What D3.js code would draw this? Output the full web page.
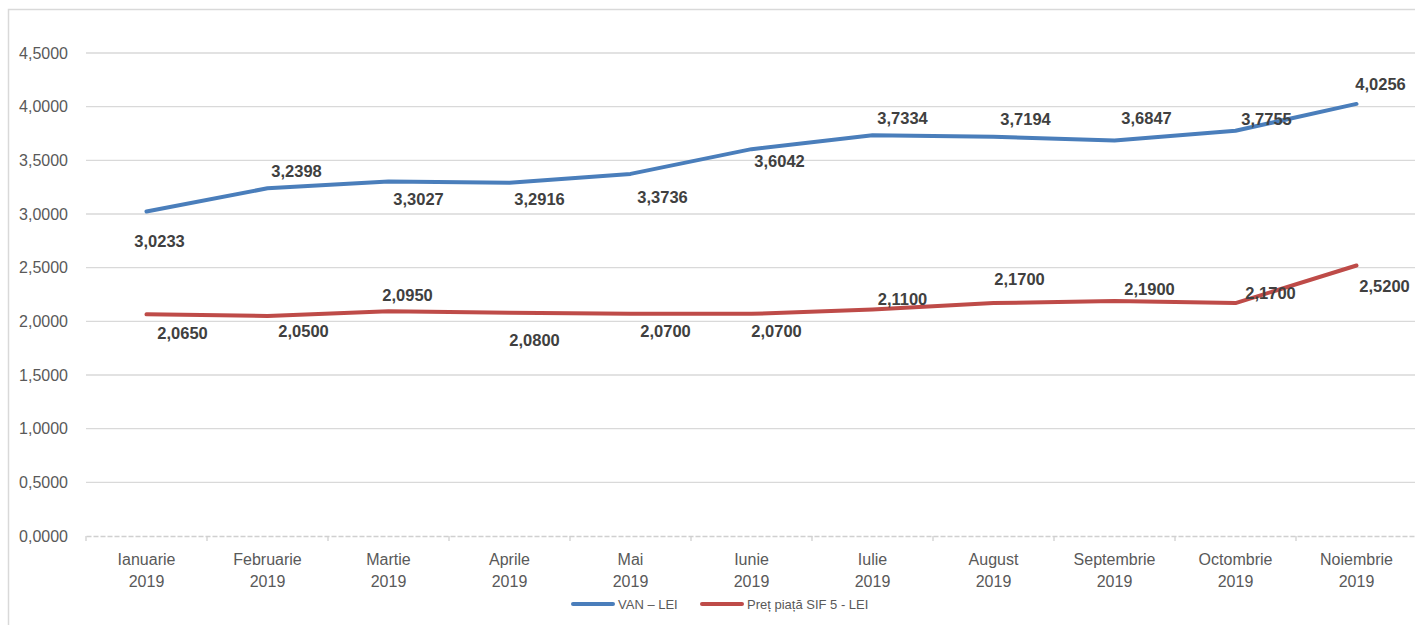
<!DOCTYPE html>
<html>
<head>
<meta charset="utf-8">
<script src="https://cdn.jsdelivr.net/npm/d3@7"></script>
<style>
  body { margin: 0; background: #fff; }
  svg { font-family: "Liberation Sans", Arial, sans-serif; }
  .grid line { stroke: #d9d9d9; stroke-width: 1.3; }
</style>
</head>
<body>
<svg width="1415" height="625"></svg>
<script>
var months = ["Ianuarie", "Februarie", "Martie", "Aprile", "Mai", "Iunie", "Iulie", "August", "Septembrie", "Octombrie", "Noiembrie"];
var year = "2019";
var van = [3.0233, 3.2398, 3.3027, 3.2916, 3.3736, 3.6042, 3.7334, 3.7194, 3.6847, 3.7755, 4.0256];
var pret = [2.065, 2.05, 2.095, 2.08, 2.07, 2.07, 2.11, 2.17, 2.19, 2.17, 2.52];
var yTicks = [0, 0.5, 1, 1.5, 2, 2.5, 3, 3.5, 4, 4.5];
var seriesNames = ["VAN \u2013 LEI", "Pre\u021b pia\u021b\u0103 SIF 5 - LEI"];

// label offsets (px) from each point, as placed in the original
var vanOffsets = [[13, 30], [29, -17], [30, 18], [30, 17], [32, 23], [28, 12], [30, -17], [32, -18], [32, -22], [31, -12], [24, -20]];
var pretOffsets = [[36, 19], [36, 15], [19, -16], [25, 27], [35, 17], [25, 17], [30, -10], [26, -24], [35, -12], [35, -10], [28, 21]];

var svg = d3.select("svg"),
    margin = {left: 86, right: -2, top: 53, bottom: 89},
    width = +svg.attr("width"),
    height = +svg.attr("height");

var fmt = function (v) { return d3.format(".4f")(v).replace(".", ","); };

// outer frame
svg.append("rect")
    .attr("x", 8.5).attr("y", 9.5)
    .attr("width", 1430).attr("height", 640)
    .attr("fill", "none")
    .attr("stroke", "#d9d9d9")
    .attr("stroke-width", 1.5);

var x = d3.scaleBand()
    .domain(months)
    .range([margin.left, width - margin.right]);

var y = d3.scaleLinear()
    .domain([0, 4.5])
    .range([height - margin.bottom, margin.top]);

// gridlines
svg.append("g")
    .attr("class", "grid")
    .selectAll("line")
    .data(yTicks.filter(function (t) { return t > 0; }))
    .enter().append("line")
    .attr("x1", margin.left)
    .attr("x2", width - margin.right)
    .attr("y1", function (d) { return y(d); })
    .attr("y2", function (d) { return y(d); });

// y labels
svg.append("g")
    .selectAll("text")
    .data(yTicks)
    .enter().append("text")
    .attr("x", 68)
    .attr("y", function (d) { return y(d); })
    .attr("dy", "0.35em")
    .attr("text-anchor", "end")
    .attr("fill", "#595959")
    .style("font-size", "16px")
    .text(fmt);

// x axis
var xAxis = svg.append("g")
    .attr("transform", "translate(0," + y(0) + ")")
    .call(d3.axisBottom(x).tickSize(0).tickFormat(""));
xAxis.select(".domain")
    .attr("stroke", "#d0d0d0")
    .attr("stroke-width", 1.3)
    .attr("stroke-dasharray", "5,2");
xAxis.selectAll(".tick").remove();

var edges = months.map(function (m) { return x(m); }).concat([x(months[months.length - 1]) + x.bandwidth()]);
xAxis.selectAll("line.edge")
    .data(edges)
    .enter().append("line")
    .attr("class", "edge")
    .attr("x1", function (d) { return d; })
    .attr("x2", function (d) { return d; })
    .attr("y1", 0).attr("y2", 5)
    .attr("stroke", "#d0d0d0")
    .attr("stroke-width", 1.3);

var xl = svg.append("g")
    .selectAll("text")
    .data(months)
    .enter().append("text")
    .attr("text-anchor", "middle")
    .attr("fill", "#595959")
    .style("font-size", "16px")
    .attr("transform", function (d) { return "translate(" + (x(d) + x.bandwidth() / 2) + ",565)"; });
xl.append("tspan").attr("x", 0).attr("y", 0).text(function (d) { return d; });
xl.append("tspan").attr("x", 0).attr("y", 22).text(year);

// lines
var line = d3.line()
    .x(function (d, i) { return x(months[i]) + x.bandwidth() / 2; })
    .y(function (d) { return y(d); });

var colors = ["#4a7ebb", "#be4b48"];

[pret, van].forEach(function (s, k) {
    svg.append("path")
        .datum(s)
        .attr("d", line)
        .attr("fill", "none")
        .attr("stroke", colors[1 - k])
        .attr("stroke-width", 4)
        .attr("stroke-linejoin", "round")
        .attr("stroke-linecap", "round");
});

// data labels
function labels(s, offs) {
    svg.append("g")
        .selectAll("text")
        .data(s)
        .enter().append("text")
        .attr("x", function (d, i) { return x(months[i]) + x.bandwidth() / 2 + offs[i][0]; })
        .attr("y", function (d, i) { return y(d) + offs[i][1]; })
        .attr("dy", "0.35em")
        .attr("text-anchor", "middle")
        .attr("fill", "#404040")
        .style("font-size", "16.5px")
        .style("font-weight", "bold")
        .text(fmt);
}
labels(van, vanOffsets);
labels(pret, pretOffsets);

// legend
var legX = [571, 700];
var leg = svg.append("g")
    .selectAll("g")
    .data(seriesNames)
    .enter().append("g")
    .attr("transform", function (d, i) { return "translate(" + legX[i] + ",604)"; });
leg.append("line")
    .attr("x1", 2).attr("x2", 42)
    .attr("stroke", function (d, i) { return colors[i]; })
    .attr("stroke-width", 4)
    .attr("stroke-linecap", "round");
leg.append("text")
    .attr("x", 47)
    .attr("dy", "0.35em")
    .attr("fill", "#595959")
    .style("font-size", "13px")
    .text(function (d) { return d; });
</script>
</body>
</html>
